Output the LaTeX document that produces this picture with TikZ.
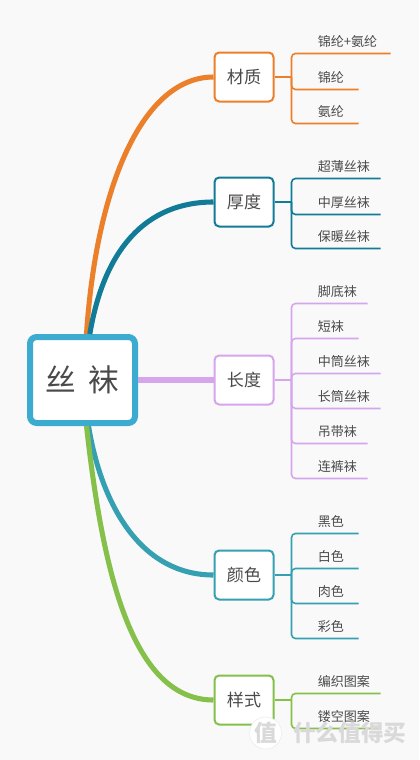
\documentclass[tikz,border=0pt]{standalone}
\usepackage{fontspec}
\setmainfont{Noto Sans CJK SC}
\definecolor{bgcol}{HTML}{F9F9F9}
\definecolor{rootcol}{HTML}{3CABD0}
\definecolor{textcol}{HTML}{4A4A4A}
\definecolor{orangecol}{HTML}{EB7F2A}
\definecolor{tealcol}{HTML}{127C98}
\definecolor{lilaccol}{HTML}{D6A6EC}
\definecolor{cyancol}{HTML}{35A0B2}
\definecolor{greencol}{HTML}{85C04A}
\begin{document}
\begin{tikzpicture}[
        x=0.75pt, y=-0.75pt,
        rootnode/.style={rectangle, rounded corners=5pt, draw=rootcol, fill=white, line width=4.5pt, minimum width=78.75pt, minimum height=64.5pt, inner sep=0pt, text=textcol, font=\fontsize{23}{25}\selectfont},
        branchnode/.style={rectangle, rounded corners=3.5pt, fill=white, line width=1.5pt, minimum width=44.25pt, minimum height=36.75pt, inner sep=0pt, text=textcol, font=\fontsize{12.8}{14}\selectfont},
        leafnode/.style={anchor=west, inner sep=0pt, text=textcol, font=\fontsize{9.8}{11}\selectfont},
        trunk/.style={line width=3.8pt},
        stem/.style={line width=2pt},
        twig/.style={line width=1.2pt, rounded corners=3pt},
        markfont/.style={inner sep=0pt, text=black!15, font=\bfseries\fontsize{17}{19}\selectfont}
    ]
    \useasboundingbox[fill=bgcol] (0,0) rectangle (419,760);

    % ==========================================
    % 1. Root and branches
    % ==========================================
    \node[rootnode] (root) at (82.5, 380) {丝\hspace{0.4em}袜};
    \node[branchnode, draw=orangecol] (cz) at (244, 77) {材质};
    \node[branchnode, draw=tealcol] (hd) at (244, 202) {厚度};
    \node[branchnode, draw=lilaccol] (cd) at (244, 380) {长度};
    \node[branchnode, draw=cyancol] (ys) at (244, 575) {颜色};
    \node[branchnode, draw=greencol] (ss) at (244, 700) {样式};

    % thick curves from the root
    \draw[trunk, orangecol] ([xshift=3pt]root.north) .. controls +(10,-150) and +(-70,0) .. (cz.west);
    \draw[trunk, tealcol] ([xshift=5.5pt]root.north) .. controls +(14,-84) and +(-68,0) .. (hd.west);
    \draw[trunk, lilaccol] (root.east) -- (cd.west);
    \draw[trunk, cyancol] ([xshift=4.5pt]root.south) .. controls +(14,84) and +(-70,0) .. (ys.west);
    \draw[trunk, greencol] ([xshift=3pt]root.south) .. controls +(16,144) and +(-82,0) .. (ss.west);

    % ==========================================
    % 2. Stems
    % ==========================================
    \coordinate (czs) at (291.5, 77);
    \coordinate (hds) at (291.5, 202);
    \coordinate (cds) at (291.5, 380);
    \coordinate (yss) at (291.5, 575);
    \coordinate (sss) at (291.5, 700);
    \draw[stem, orangecol] (cz.east) -- (czs);
    \draw[stem, tealcol] (hd.east) -- (hds);
    \draw[stem, lilaccol] (cd.east) -- (cds);
    \draw[stem, cyancol] (ys.east) -- (yss);
    \draw[stem, greencol] (ss.east) -- (sss);

    % ==========================================
    % 3. Leaves: number / line height / line end / text
    % ==========================================
    \foreach \i/\y/\e/\t in {1/53.5/390.7/锦纶+氨纶, 2/89.5/358.7/锦纶, 3/123.5/358.7/氨纶} {
        \node[leafnode] (cz\i) at (317.5, \y-12) {\t};
        \coordinate (cz\i e) at (\e, \y);
        \draw[twig, orangecol] (czs) |- (cz\i e);
    }
    \foreach \i/\y/\e/\t in {1/178.5/380.7/超薄丝袜, 2/214.5/380.7/中厚丝袜, 3/248.5/380.7/保暖丝袜} {
        \node[leafnode] (hd\i) at (317.5, \y-12) {\t};
        \coordinate (hd\i e) at (\e, \y);
        \draw[twig, tealcol] (hds) |- (hd\i e);
    }
    \foreach \i/\y/\e/\t in {1/303.5/367.7/脚底袜, 2/338.5/358.7/短袜, 3/373.5/380.7/中筒丝袜, 4/408.5/380.7/长筒丝袜, 5/443.5/367.7/吊带袜, 6/478.5/367.7/连裤袜} {
        \node[leafnode] (cd\i) at (317.5, \y-12) {\t};
        \coordinate (cd\i e) at (\e, \y);
        \draw[twig, lilaccol] (cds) |- (cd\i e);
    }
    \foreach \i/\y/\e/\t in {1/533.5/358.7/黑色, 2/568.5/358.7/白色, 3/603.5/358.7/肉色, 4/638.5/358.7/彩色} {
        \node[leafnode] (ys\i) at (317.5, \y-12) {\t};
        \coordinate (ys\i e) at (\e, \y);
        \draw[twig, cyancol] (yss) |- (ys\i e);
    }
    \foreach \i/\y/\e/\t in {1/693.5/380.7/编织图案, 2/728.5/380.7/镂空图案} {
        \node[leafnode] (ss\i) at (317.5, \y-12) {\t};
        \coordinate (ss\i e) at (\e, \y);
        \draw[twig, greencol] (sss) |- (ss\i e);
    }

    % watermark
    \node[circle, draw=black!8, fill=white, minimum size=24pt, markfont] (seal) at (265.5, 733) {值};
    \node[markfont, anchor=west] (brand) at (293, 733) {什么值得买};
\end{tikzpicture}
\end{document}
